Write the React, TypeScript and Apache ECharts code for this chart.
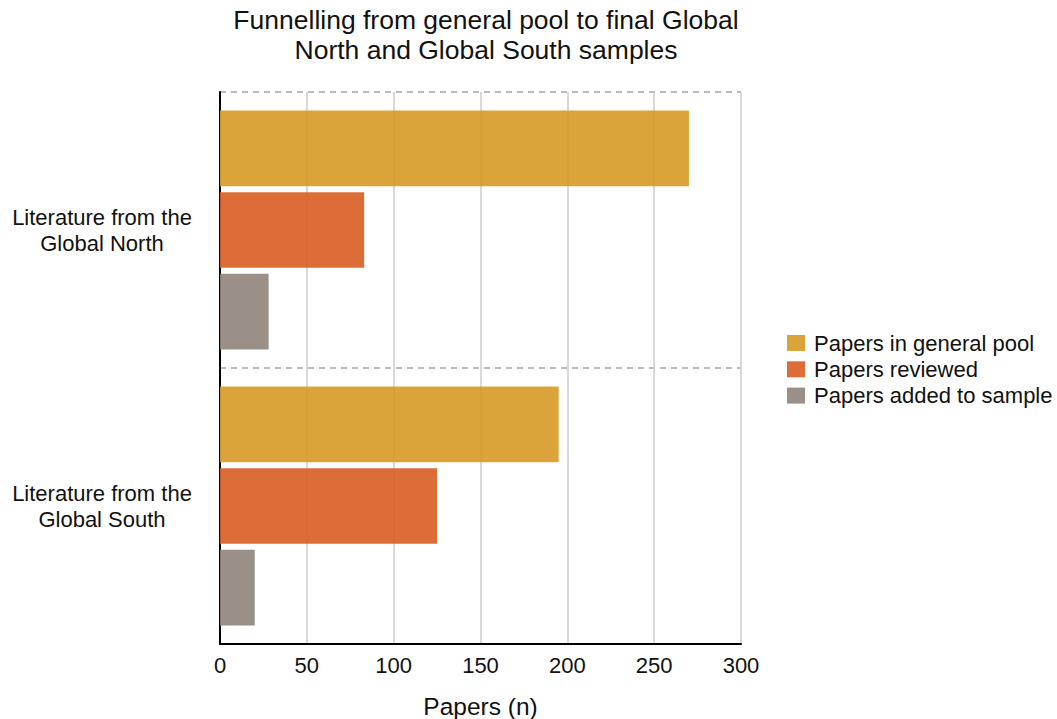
import React, { useEffect, useRef } from "react";
import * as echarts from "echarts";

const categories = ["Literature from the\nGlobal North", "Literature from the\nGlobal South"];
const seriesNames = ["Papers in general pool", "Papers reviewed", "Papers added to sample"];
const generalPool = [270, 195];
const reviewed = [83, 125];
const addedToSample = [28, 20];
const colors = ["rgba(214,154,38,0.9)", "rgba(216,93,34,0.9)", "rgba(143,132,122,0.9)"];

const FONT = "'Liberation Sans', Arial, Helvetica, sans-serif";

export default function App() {
  const ref = useRef<HTMLDivElement>(null);
  useEffect(() => {
    if (!ref.current) return;
    const chart = echarts.init(ref.current, undefined, { renderer: "svg" });
    const values = [generalPool, reviewed, addedToSample];
    chart.setOption({
      animation: false,
      textStyle: { fontFamily: FONT },
      title: {
        text: "Funnelling from general pool to final Global\nNorth and Global South samples",
        left: 481,
        textAlign: "center",
        top: 0,
        textStyle: { fontFamily: FONT, fontSize: 26.5, fontWeight: "normal", color: "#111", lineHeight: 30 },
      },
      legend: {
        orient: "vertical",
        left: 782,
        top: 327,
        itemWidth: 18,
        itemHeight: 16,
        itemGap: 4.3,
        icon: "rect",
        textStyle: { fontFamily: FONT, fontSize: 22, color: "#111", padding: [0, 0, 0, 4] },
        data: seriesNames,
      },
      grid: { left: 220, right: 316, top: 92, bottom: 75, containLabel: false, outerBoundsMode: "none" },
      xAxis: {
        type: "value",
        min: 0,
        max: 300,
        interval: 50,
        name: "Papers (n)",
        nameLocation: "middle",
        nameGap: 50,
        nameTextStyle: { fontFamily: FONT, fontSize: 24.5, color: "#111" },
        axisLine: { show: true, lineStyle: { color: "#000", width: 2 } },
        axisTick: { show: false },
        axisLabel: { fontFamily: FONT, fontSize: 22, color: "#111", margin: 10 },
        splitLine: { show: true, lineStyle: { color: "#cccccc", width: 1.5 } },
      },
      yAxis: {
        type: "category",
        inverse: true,
        data: categories,
        axisLine: { show: true, lineStyle: { color: "#000", width: 2 } },
        axisTick: { show: false },
        axisLabel: {
          fontFamily: FONT,
          fontSize: 22,
          color: "#111",
          align: "center",
          margin: 118,
          lineHeight: 26,
          padding: [4, 0, 0, 0],
        },
        splitLine: { show: true, lineStyle: { color: "#bbbbbb", type: [6, 5], width: 2 } },
      },
      series: seriesNames.map((name, i) => ({
        name,
        type: "bar",
        data: values[i],
        barGap: "8%",
        barCategoryGap: "13.4%",
        itemStyle: { color: colors[i] },
        emphasis: { disabled: true },
      })),
    });
    return () => chart.dispose();
  }, []);
  return <div ref={ref} style={{ width: 1057, height: 719, position: "absolute", left: 0, top: 0 }} />;
}
